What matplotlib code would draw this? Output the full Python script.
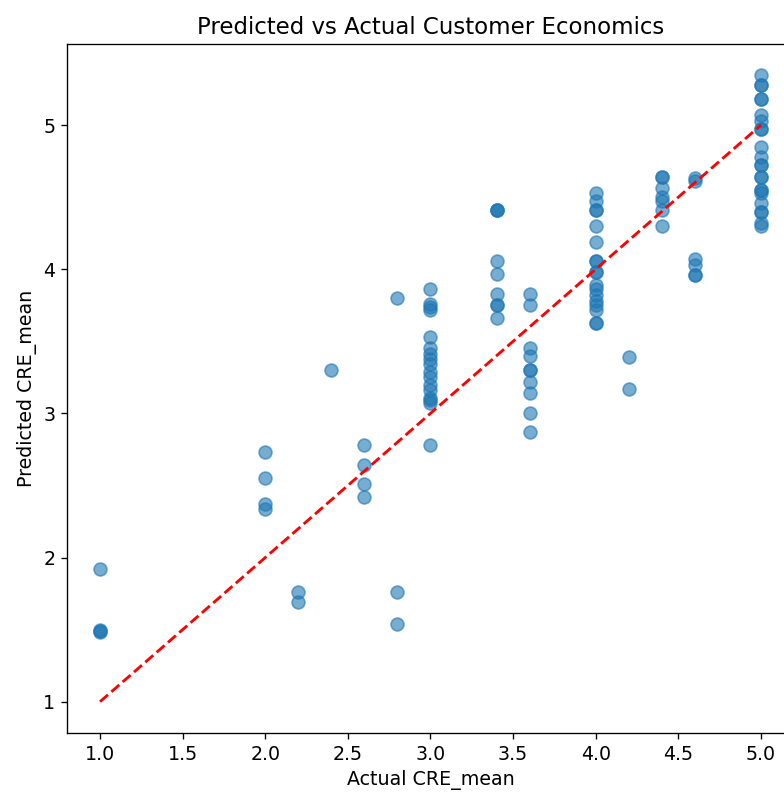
import matplotlib
matplotlib.use('Agg')
import matplotlib.pyplot as plt

# Actual vs predicted CRE_mean, grouped by actual value
actual_vals = [1.0, 2.0, 2.2, 2.4, 2.6, 2.8, 3.0, 3.4, 3.6, 4.0, 4.2, 4.4, 4.6, 5.0]
predicted_groups = [
    [1.92, 1.50, 1.49, 1.48],
    [2.73, 2.55, 2.37, 2.34],
    [1.76, 1.69],
    [3.30],
    [2.78, 2.64, 2.51, 2.42],
    [3.80, 1.76, 1.54],
    [3.86, 3.76, 3.74, 3.72, 3.53, 3.45, 3.41, 3.38, 3.34, 3.29, 3.25, 3.20,
     3.16, 3.11, 3.09, 3.07, 2.78],
    [4.41, 4.41, 4.41, 4.06, 3.97, 3.83, 3.75, 3.75, 3.66],
    [3.83, 3.75, 3.45, 3.40, 3.30, 3.30, 3.22, 3.14, 3.00, 2.87],
    [4.53, 4.47, 4.41, 4.41, 4.30, 4.19, 4.06, 4.06, 3.98, 3.98, 3.89, 3.86,
     3.82, 3.78, 3.75, 3.72, 3.63, 3.63],
    [3.39, 3.17],
    [4.64, 4.64, 4.56, 4.50, 4.47, 4.41, 4.30],
    [4.63, 4.61, 4.07, 4.03, 3.96, 3.96],
    [5.345, 5.28, 5.28, 5.18, 5.18, 5.07, 5.03, 4.97, 4.97, 4.85, 4.78, 4.72,
     4.72, 4.64, 4.64, 4.55, 4.55, 4.53, 4.46, 4.40, 4.40, 4.32, 4.30],
]

y_true = []
y_pred = []
for a, preds in zip(actual_vals, predicted_groups):
    for p in preds:
        y_true.append(a)
        y_pred.append(p)

plt.rcParams['font.size'] = 11.4

fig = plt.figure(figsize=(784 / 120, 793 / 120), dpi=120)
ax = fig.add_axes([67 / 784, 60 / 793, 727 / 784, 689 / 793])

ax.scatter(y_true, y_pred, s=60, alpha=0.6)
ax.plot([min(y_true), max(y_true)], [min(y_true), max(y_true)], 'r--', linewidth=1.7)

ax.set_title('Predicted vs Actual Customer Economics', fontsize=13.7)
ax.set_xlabel('Actual CRE_mean')
ax.set_ylabel('Predicted CRE_mean')

fig.savefig('out.png', dpi=120)
